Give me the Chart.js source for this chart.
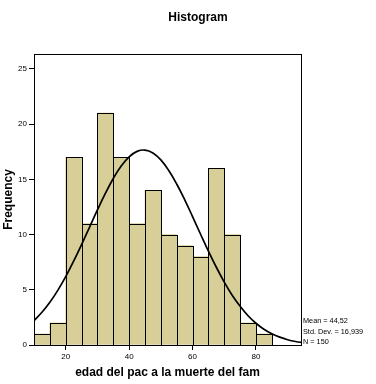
<!DOCTYPE html>
<html>
<head>
<meta charset="utf-8">
<title>Histogram</title>
<script src="https://cdn.jsdelivr.net/npm/chart.js@4.4.0/dist/chart.umd.min.js"></script>
<style>
	body { margin: 0; background: #fff; }
	#wrap { width: 376px; height: 384px; }
</style>
</head>
<body>
<div id="wrap"><canvas id="histChart" width="376" height="384"></canvas></div>
<script>
// classes of 5 years (left edge) and how many fall in each
var binStarts = [10, 15, 20, 25, 30, 35, 40, 45, 50, 55, 60, 65, 70, 75, 80];
var binWidth = 5;
var frequencies = [1, 2, 17, 11, 21, 17, 11, 14, 10, 9, 8, 16, 10, 2, 1];

// normal curve, every 2.5 years
var curveX = [10, 12.5, 15, 17.5, 20, 22.5, 25, 27.5, 30, 32.5, 35, 37.5, 40, 42.5, 45, 47.5, 50, 52.5,
	55, 57.5, 60, 62.5, 65, 67.5, 70, 72.5, 75, 77.5, 80, 82.5, 85, 87.5, 90, 92.5, 95];
var curveY = [2.21, 2.96, 3.87, 4.95, 6.19, 7.59, 9.09, 10.66, 12.23, 13.73, 15.08, 16.21, 17.04, 17.53, 17.65, 17.39, 16.76, 15.80,
	14.58, 13.17, 11.63, 10.05, 8.50, 7.04, 5.70, 4.51, 3.50, 2.65, 1.97, 1.43, 1.02, 0.71, 0.48, 0.32, 0.21];

// axis ticks
var xTicks = [20, 40, 60, 80];
var yTicks = [0, 5, 10, 15, 20, 25];

var statLines = ['Mean = 44,52', 'Std. Dev. = 16,939', 'N = 150'];

var FONT = "'Liberation Sans', Arial, sans-serif";

// crisp 1px outlines on the bars, drawn right after the bars (before the curve)
var barOutline = {
	id: 'barOutline',
	afterDatasetDraw: function(chart, args){
		if (args.meta.type !== 'bar') return;
		var ctx = chart.ctx;
		ctx.save();
		ctx.strokeStyle = '#000';
		ctx.lineWidth = 1;
		args.meta.data.forEach(function(el){
			var l = Math.round(el.x - el.width / 2);
			var r = Math.round(el.x + el.width / 2);
			var t = Math.round(el.y);
			var b = Math.round(el.base);
			ctx.strokeRect(l + 0.5, t + 0.5, r - l, b - t);
		});
		ctx.restore();
	}
};

// title, stats box and the frame round the plot
var spssText = {
	id: 'spssText',
	afterDraw: function(chart){
		var ctx = chart.ctx;
		var a = chart.chartArea;
		ctx.save();
		ctx.strokeStyle = '#000';
		ctx.lineWidth = 1;
		ctx.strokeRect(Math.round(a.left) + 0.5, Math.round(a.top) + 0.5,
			Math.round(a.right - a.left), Math.round(a.bottom - a.top));

		ctx.fillStyle = '#000';
		ctx.font = 'bold 12px ' + FONT;
		ctx.textAlign = 'center';
		ctx.textBaseline = 'middle';
		ctx.fillText('Histogram', 198, 18);

		ctx.font = '7.3px ' + FONT;
		ctx.textAlign = 'left';
		statLines.forEach(function(line, i){
			ctx.fillText(line, a.right + 2, 321 + i * 10.5);
		});
		ctx.restore();
	}
};

var barData = binStarts.map(function(s, i){
	return { x: s + binWidth / 2, y: frequencies[i] };
});
var curveData = curveX.map(function(x, i){
	return { x: x, y: curveY[i] };
});

var ctx = document.getElementById('histChart').getContext('2d');
var histChart = new Chart(ctx, {
	type: 'bar',
	data: {
		datasets: [{
			type: 'line',
			data: curveData,
			borderColor: '#000',
			borderWidth: 1.7,
			pointRadius: 0,
			tension: 0.4,
			fill: false,
			clip: 0,
			order: 0
		}, {
			type: 'bar',
			data: barData,
			backgroundColor: 'rgb(215,206,152)',
			borderWidth: 0,
			barPercentage: 1,
			categoryPercentage: 1,
			order: 1
		}]
	},
	options: {
		responsive: false,
		animation: false,
		layout: {
			padding: { left: 0, top: 54, right: 75, bottom: 0 }
		},
		plugins: {
			legend: { display: false },
			tooltip: { enabled: false }
		},
		scales: {
			x: {
				type: 'linear',
				offset: false,
				min: 10,
				max: 94.2,
				afterFit: function(scale){ scale.height = 39; },
				afterBuildTicks: function(scale){
					scale.ticks = xTicks.map(function(v){ return { value: v }; });
				},
				border: { display: false },
				grid: { drawOnChartArea: false, offset: false, tickLength: 5, color: '#000' },
				ticks: {
					color: '#000',
					padding: 2,
					maxRotation: 0,
					font: { family: FONT, size: 8 }
				},
				title: {
					display: true,
					text: 'edad del pac a la muerte del fam',
					color: '#000',
					padding: { top: 0, bottom: 4 },
					font: { family: FONT, size: 12, weight: 'bold' }
				}
			},
			y: {
				min: 0,
				max: 26.35,
				afterFit: function(scale){ scale.width = 34; },
				afterBuildTicks: function(scale){
					scale.ticks = yTicks.map(function(v){ return { value: v }; });
				},
				border: { display: false },
				grid: { drawOnChartArea: false, offset: false, tickLength: 5, color: '#000' },
				ticks: {
					color: '#000',
					padding: 2,
					font: { family: FONT, size: 8 }
				},
				title: {
					display: true,
					text: 'Frequency',
					color: '#000',
					padding: { top: 1, bottom: 0 },
					font: { family: FONT, size: 12, weight: 'bold' }
				}
			}
		}
	},
	plugins: [barOutline, spssText]
});
</script>
</body>
</html>
